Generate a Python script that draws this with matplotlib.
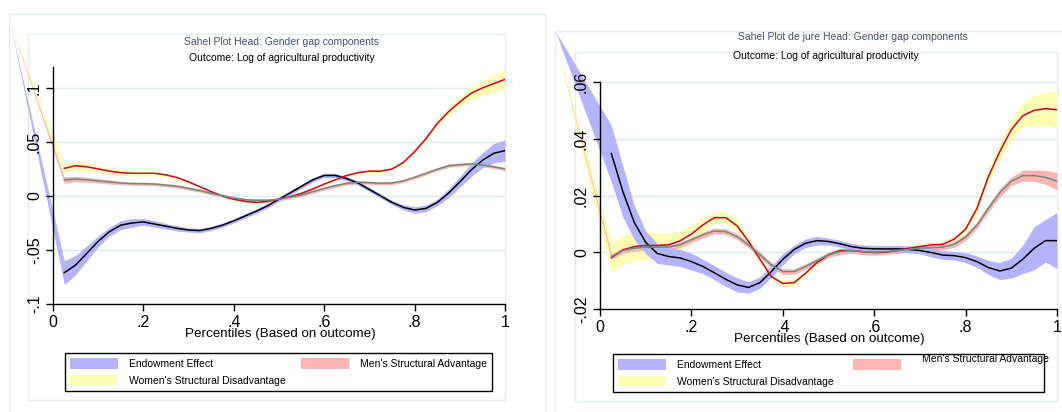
import numpy as np
import matplotlib.pyplot as plt
from matplotlib.patches import Patch, Rectangle

plt.rcParams["font.family"] = ["Liberation Sans", "DejaVu Sans"]

percentiles = np.arange(1, 41) / 40

# Sahel, plot head
head_endow = [-0.071, -0.064, -0.053, -0.042, -0.033, -0.027, -0.025, -0.024, -0.026, -0.028,
              -0.030, -0.0315, -0.032, -0.030, -0.027, -0.023, -0.0185, -0.014, -0.009, -0.003,
              0.003, 0.009, 0.015, 0.019, 0.019, 0.016, 0.012, 0.006, 0.0, -0.006,
              -0.0105, -0.013, -0.0115, -0.006, 0.0025, 0.013, 0.024, 0.033, 0.0395, 0.042]
head_endow_hw = [0.011, 0.009, 0.007, 0.005, 0.004, 0.004, 0.004, 0.003, 0.003, 0.0025,
                 0.0025, 0.002, 0.002, 0.002, 0.002, 0.002, 0.002, 0.002, 0.002, 0.002,
                 0.002, 0.002, 0.002, 0.002, 0.002, 0.002, 0.002, 0.002, 0.002, 0.002,
                 0.0025, 0.003, 0.003, 0.003, 0.004, 0.005, 0.006, 0.007, 0.009, 0.010]
head_women = [0.0256, 0.028, 0.027, 0.025, 0.023, 0.0216, 0.021, 0.021, 0.021, 0.0195,
              0.017, 0.013, 0.0086, 0.004, 0.0, -0.003, -0.005, -0.006, -0.005, -0.003,
              -0.0006, 0.0025, 0.0065, 0.011, 0.015, 0.019, 0.0216, 0.023, 0.023, 0.025,
              0.031, 0.041, 0.053, 0.067, 0.078, 0.087, 0.095, 0.100, 0.104, 0.108]
head_women_hw = [0.0045, 0.004, 0.004, 0.0035, 0.003, 0.003, 0.0025, 0.0025, 0.002, 0.002,
                 0.002, 0.002, 0.0015, 0.0015, 0.0015, 0.0015, 0.0015, 0.0015, 0.0015, 0.0015,
                 0.0015, 0.0015, 0.0015, 0.0015, 0.0015, 0.0015, 0.0015, 0.0015, 0.0015, 0.0015,
                 0.002, 0.002, 0.0025, 0.003, 0.004, 0.005, 0.006, 0.007, 0.008, 0.009]
head_men = [0.0148, 0.0157, 0.015, 0.014, 0.013, 0.012, 0.0114, 0.0114, 0.011, 0.010,
            0.009, 0.007, 0.005, 0.0025, 0.0003, -0.002, -0.0034, -0.004, -0.004, -0.003,
            -0.001, 0.001, 0.004, 0.007, 0.0096, 0.0117, 0.0127, 0.0123, 0.0117, 0.012,
            0.014, 0.0173, 0.021, 0.0247, 0.028, 0.029, 0.0296, 0.0287, 0.027, 0.025]
head_men_hw = [0.003, 0.0025, 0.0022, 0.002, 0.002] + [0.0015] * 35
head_stray = {"endow": (-0.095, 0.16), "women": (-0.095, 0.16), "men": (-0.095, 0.16)}

# Sahel, plot de jure head
dejure_endow = [0.0347, 0.0214, 0.0105, 0.0035, -0.0004, -0.0015, -0.002, -0.0033, -0.005, -0.0072,
                -0.0095, -0.0115, -0.0124, -0.0107, -0.0068, -0.0025, 0.001, 0.0032, 0.0041, 0.0038,
                0.003, 0.002, 0.0014, 0.0012, 0.0012, 0.0012, 0.001, 0.0006, -0.0001, -0.001,
                -0.0012, -0.0019, -0.0033, -0.0054, -0.0066, -0.0056, -0.0025, 0.0014, 0.0041, 0.0041]
dejure_endow_hw = [0.010, 0.009, 0.006, 0.004, 0.0035, 0.003, 0.003, 0.003, 0.0025, 0.0025,
                   0.0025, 0.0025, 0.002, 0.002, 0.002, 0.002, 0.0015, 0.0015, 0.0015, 0.0012,
                   0.0012, 0.0012, 0.0012, 0.0012, 0.0012, 0.0012, 0.0012, 0.0012, 0.0015, 0.0015,
                   0.0015, 0.0018, 0.002, 0.0025, 0.003, 0.0035, 0.005, 0.0076, 0.0075, 0.0099]
dejure_women = [-0.0019, 0.0008, 0.002, 0.0024, 0.0024, 0.0026, 0.004, 0.0064, 0.0096, 0.0122,
                0.0122, 0.0093, 0.0038, -0.0025, -0.0086, -0.011, -0.0107, -0.0074, -0.0036, -0.0009,
                0.0006, 0.0006, 0.0002, -0.0001, 0.0, 0.0006, 0.0014, 0.002, 0.0026, 0.0028,
                0.0046, 0.0081, 0.0155, 0.0267, 0.0355, 0.0432, 0.0481, 0.050, 0.0506, 0.0502]
dejure_women_hw = [0.0055, 0.005, 0.005, 0.005, 0.0045, 0.004, 0.0035, 0.003, 0.0025, 0.002,
                   0.002, 0.002, 0.0018, 0.0015, 0.0012, 0.0012, 0.0012] + [0.001] * 13 + \
                  [0.0012, 0.0015, 0.002, 0.0025, 0.003, 0.0035, 0.0045, 0.0052, 0.006, 0.0065]
dejure_men = [-0.0015, 0.0006, 0.0014, 0.0018, 0.0018, 0.0018, 0.0026, 0.0044, 0.0061, 0.0075,
              0.0073, 0.0055, 0.0026, -0.0009, -0.0045, -0.0068, -0.0068, -0.005, -0.003, -0.0009,
              0.0002, 0.0006, 0.0002, 0.0, 0.0002, 0.0006, 0.001, 0.0014, 0.0016, 0.0018,
              0.0028, 0.0053, 0.0096, 0.0155, 0.021, 0.025, 0.027, 0.027, 0.0264, 0.025]
dejure_men_hw = [0.001] * 30 + [0.001, 0.0012, 0.0012, 0.0013, 0.0015, 0.0015, 0.002, 0.002, 0.0025, 0.003]
dejure_stray = {"endow": (-0.098, 0.078), "women": (-0.094, 0.072), "men": (-0.094, 0.072)}

labels = ["Endowment Effect", "Women's Structural Disadvantage", "Men's Structural Advantage"]
band_colors = {"endow": "#b4b4fc", "women": "#fdfdb4", "men": "#fdb4b4"}
line_colors = {"endow": "#000000", "women": "#cc0033", "men": "#6c8c7c"}
title_color = "#44507e"
frame_color = "#e3eded"
grid_color = "#dfeaea"


def stata_fmt(v, pos=None):
    s = f"{v:g}"
    if s.startswith("0."):
        s = s[1:]
    elif s.startswith("-0."):
        s = "-" + s[2:]
    return s


def draw_panel(fig, rect, ylim, yticks, series, stray):
    ax = fig.add_axes(rect)
    # horizontal guides under everything
    for yv in yticks[1:]:
        ax.axhline(yv, color=grid_color, lw=1, zorder=0.5)
    # bands first, lines on top; axis labels stay above both
    for key in ["women", "men", "endow"]:
        vals, hw = series[key]
        vals, hw = np.asarray(vals), np.asarray(hw)
        sx, sy = stray[key]
        xs = np.concatenate([[sx], percentiles])
        lo = np.concatenate([[sy], vals - hw])
        hi = np.concatenate([[sy], vals + hw])
        ax.fill_between(xs, lo, hi, color=band_colors[key], linewidth=0,
                        clip_on=False, zorder=1)
    for key in ["endow", "women", "men"]:
        ax.plot(percentiles, series[key][0], color=line_colors[key], lw=1.1, zorder=1.2)

    ax.set_xlim(0, 1)
    ax.set_ylim(*ylim)
    ax.set_xticks([0, 0.2, 0.4, 0.6, 0.8, 1])
    ax.set_yticks(yticks)
    ax.xaxis.set_major_formatter(plt.FuncFormatter(stata_fmt))
    ax.yaxis.set_major_formatter(plt.FuncFormatter(stata_fmt))
    ax.tick_params(labelsize=11.5, length=5, width=1, direction="out", pad=3)
    for lab in ax.get_yticklabels():
        lab.set_rotation(90)
        lab.set_va("center")
    ax.set_axisbelow(False)
    for side in ["top", "right"]:
        ax.spines[side].set_visible(False)
    for side in ["left", "bottom"]:
        ax.spines[side].set_linewidth(1)
    ax.patch.set_alpha(0)
    return ax


def frame(fig, x0, y0, x1, y1):
    W, H = 1062, 412
    fig.add_artist(Rectangle((x0 / W, 1 - y1 / H), (x1 - x0) / W, (y1 - y0) / H,
                             transform=fig.transFigure, fill=False,
                             edgecolor=frame_color, lw=1, zorder=0))


def add_legend(fig, box):
    handles = [Patch(facecolor=band_colors["endow"], edgecolor="none"),
               Patch(facecolor=band_colors["women"], edgecolor="none"),
               Patch(facecolor=band_colors["men"], edgecolor="none")]
    leg = fig.legend(handles, labels, ncol=2, loc="lower left", bbox_to_anchor=box,
                     mode="expand", fontsize=7.5, handlelength=4.6, handleheight=1.2,
                     handletextpad=1.0, labelspacing=0.55, borderpad=0.5,
                     fancybox=False, edgecolor="black", framealpha=1)
    leg.get_frame().set_linewidth(1)
    return leg


fig = plt.figure(figsize=(10.62, 4.12), dpi=100)
W, H = 1062, 412

# panel frames
frame(fig, 9, 14, 545, 420)
frame(fig, 28, 34, 505, 400)
frame(fig, 555, 31, 1070, 420)
frame(fig, 575, 52, 1057, 401)

draw_panel(fig, [53 / W, 1 - 304 / H, 452 / W, 237 / H], (-0.1, 0.1194),
           [-0.1, -0.05, 0, 0.05, 0.1],
           {"endow": (head_endow, head_endow_hw),
            "women": (head_women, head_women_hw),
            "men": (head_men, head_men_hw)}, head_stray)
draw_panel(fig, [600 / W, 1 - 309 / H, 457 / W, 227 / H], (-0.02, 0.06),
           [-0.02, 0, 0.02, 0.04, 0.06],
           {"endow": (dejure_endow, dejure_endow_hw),
            "women": (dejure_women, dejure_women_hw),
            "men": (dejure_men, dejure_men_hw)}, dejure_stray)

fig.text(282 / W, 1 - 42 / H, "Sahel Plot Head: Gender gap components",
         ha="center", va="center", fontsize=7.5, color=title_color)
fig.text(282 / W, 1 - 58 / H, "Outcome: Log of agricultural productivity",
         ha="center", va="center", fontsize=7.5, color="black")
fig.text(853 / W, 1 - 37 / H, "Sahel Plot de jure Head: Gender gap components",
         ha="center", va="center", fontsize=7.5, color=title_color)
fig.text(826 / W, 1 - 56 / H, "Outcome: Log of agricultural productivity",
         ha="center", va="center", fontsize=7.5, color="black")

fig.text(280 / W, 1 - 334 / H, "Percentiles (Based on outcome)",
         ha="center", va="center", fontsize=9.6)
fig.text(829 / W, 1 - 339 / H, "Percentiles (Based on outcome)",
         ha="center", va="center", fontsize=9.6)

add_legend(fig, (60 / W, 1 - 396 / H, 437 / W, 46 / H))
leg = add_legend(fig, (608 / W, 1 - 397 / H, 441 / W, 44 / H))
# the de jure legend sets its third label a little higher and further right
leg.get_texts()[2].set_position((10, 6))

fig.savefig("out.png", dpi=100)
